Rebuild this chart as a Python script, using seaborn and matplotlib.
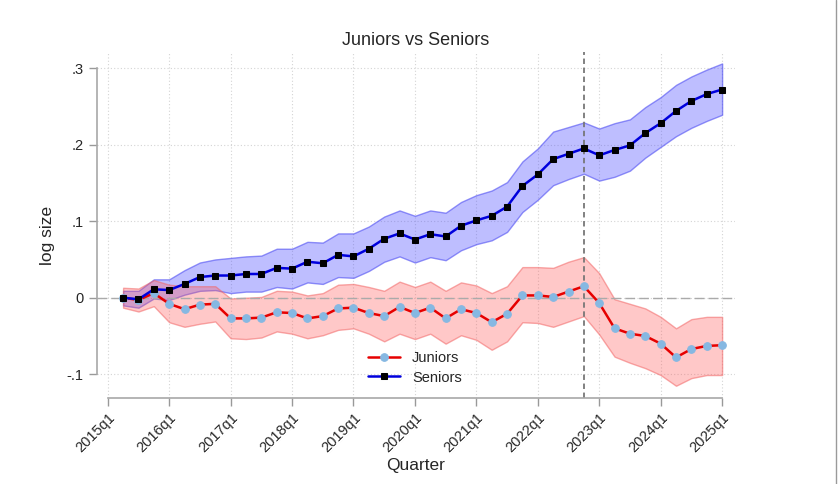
import numpy as np
import pandas as pd
import seaborn as sns
import matplotlib.pyplot as plt
from matplotlib.lines import Line2D

# quarter index: 0 = 2015q1, data runs 2015q2 .. 2025q1
qtr = list(range(1, 41))

seniors = [0.000, -0.002, 0.011, 0.010, 0.018, 0.027, 0.029, 0.029, 0.031, 0.031,
           0.039, 0.038, 0.047, 0.045, 0.056, 0.054, 0.064, 0.077, 0.084, 0.076,
           0.083, 0.080, 0.094, 0.101, 0.107, 0.119, 0.146, 0.161, 0.181, 0.188,
           0.195, 0.186, 0.193, 0.199, 0.215, 0.228, 0.244, 0.257, 0.266, 0.272]
seniors_hi = [0.009, 0.009, 0.024, 0.024, 0.036, 0.046, 0.050, 0.052, 0.054, 0.055,
              0.064, 0.064, 0.073, 0.072, 0.084, 0.084, 0.093, 0.106, 0.114, 0.107,
              0.114, 0.111, 0.125, 0.134, 0.140, 0.151, 0.178, 0.195, 0.217, 0.223,
              0.229, 0.221, 0.228, 0.233, 0.249, 0.262, 0.278, 0.289, 0.298, 0.306]
seniors_lo = [-0.010, -0.013, -0.001, -0.003, 0.004, 0.009, 0.010, 0.006, 0.008, 0.008,
              0.014, 0.012, 0.020, 0.018, 0.027, 0.026, 0.035, 0.047, 0.054, 0.046,
              0.053, 0.049, 0.062, 0.070, 0.075, 0.086, 0.112, 0.128, 0.147, 0.155,
              0.162, 0.153, 0.158, 0.166, 0.183, 0.197, 0.211, 0.222, 0.231, 0.239]

juniors = [0.000, -0.003, 0.006, -0.008, -0.015, -0.009, -0.008, -0.027, -0.027, -0.026,
           -0.019, -0.020, -0.027, -0.024, -0.014, -0.013, -0.020, -0.024, -0.012, -0.020,
           -0.013, -0.027, -0.015, -0.020, -0.032, -0.021, 0.003, 0.003, 0.001, 0.008,
           0.015, -0.007, -0.040, -0.047, -0.050, -0.060, -0.078, -0.067, -0.063, -0.062]
juniors_hi = [0.013, 0.012, 0.023, 0.017, 0.015, 0.015, 0.015, -0.001, 0.000, 0.001,
              0.009, 0.008, 0.003, 0.006, 0.017, 0.018, 0.014, 0.009, 0.021, 0.014,
              0.021, 0.009, 0.020, 0.016, 0.006, 0.015, 0.040, 0.040, 0.039, 0.047,
              0.053, 0.032, -0.002, -0.008, -0.014, -0.025, -0.040, -0.028, -0.025, -0.025]
juniors_lo = [-0.013, -0.018, -0.011, -0.032, -0.038, -0.034, -0.031, -0.053, -0.054, -0.052,
              -0.044, -0.047, -0.053, -0.049, -0.042, -0.040, -0.047, -0.057, -0.047, -0.054,
              -0.047, -0.060, -0.049, -0.055, -0.068, -0.057, -0.032, -0.033, -0.038, -0.031,
              -0.024, -0.048, -0.077, -0.085, -0.092, -0.101, -0.115, -0.105, -0.101, -0.101]

tick_pos = [0, 4, 8, 12, 16, 20, 24, 28, 32, 36, 40]
tick_labels = ['2015q1', '2016q1', '2017q1', '2018q1', '2019q1', '2020q1',
               '2021q1', '2022q1', '2023q1', '2024q1', '2025q1']
y_ticks = [-0.1, 0, 0.1, 0.2, 0.3]
y_labels = ['-.1', '0', '.1', '.2', '.3']
event_qtr = 31  # 2022q4

df = pd.DataFrame({'qtr': qtr, 'Juniors': juniors, 'Seniors': seniors})

sns.set_style('white')
plt.rcParams['font.family'] = ['Liberation Sans', 'DejaVu Sans']

fig = plt.figure(figsize=(8.38, 4.84), dpi=100)
ax = fig.add_axes([97 / 838, 1 - 398 / 484, 638 / 838, 346 / 484])

# grid
for t in tick_pos:
    ax.axvline(t, color='#d4d4d4', linestyle=(0, (1, 2)), linewidth=0.8, zorder=0)
for t in y_ticks:
    ax.axhline(t, color='#d4d4d4', linestyle=(0, (1, 2)), linewidth=0.8, zorder=0)

ax.fill_between(qtr, seniors_lo, seniors_hi, facecolor=(0.3, 0.3, 1.0, 0.36),
                edgecolor=(0.3, 0.3, 0.95, 0.6), linewidth=1, zorder=1)
ax.fill_between(qtr, juniors_lo, juniors_hi, facecolor=(1.0, 0.35, 0.35, 0.33),
                edgecolor=(0.95, 0.4, 0.4, 0.55), linewidth=1, zorder=1)

ax.axhline(0, color='#aaaaaa', linestyle=(0, (7, 3)), linewidth=1, zorder=2)
ax.axvline(event_qtr, color='#777777', linestyle=(0, (3, 2)), linewidth=1.3, zorder=2)

sns.lineplot(data=df, x='qtr', y='Juniors', ax=ax, color='#e60000', linewidth=1.8,
             marker='o', markersize=5.5, markerfacecolor='#86b8e2',
             markeredgecolor='#86b8e2', label='Juniors', zorder=3)
sns.lineplot(data=df, x='qtr', y='Seniors', ax=ax, color='#0000dd', linewidth=1.8,
             marker='s', markersize=5, markerfacecolor='black',
             markeredgecolor='black', label='Seniors', zorder=4)

ax.set_xlim(-0.70, 40.84)
ax.set_ylim(-0.131, 0.321)
ax.set_xticks(tick_pos)
ax.set_xticklabels(tick_labels, rotation=45, ha='right', rotation_mode='anchor')
ax.set_yticks(y_ticks)
ax.set_yticklabels(y_labels)
ax.tick_params(axis='both', labelsize=10.5, color='#999999', length=6, width=1,
               direction='out', left=True, bottom=True)
ax.tick_params(axis='x', pad=3)

for s in ['top', 'right']:
    ax.spines[s].set_visible(False)
for s in ['left', 'bottom']:
    ax.spines[s].set_color('#a8a8a8')
    ax.spines[s].set_linewidth(1.2)
ax.spines['left'].set_bounds(-0.1, 0.3)
ax.spines['bottom'].set_bounds(0, 40)

ax.set_title('Juniors vs Seniors', fontsize=13, pad=5)
ax.set_xlabel('Quarter', fontsize=12.5)
ax.set_ylabel('log size', fontsize=12.5)
ax.xaxis.set_label_coords(0.5, -0.172)
ax.yaxis.set_label_coords(-0.066, 0.47)

ax.legend(loc='center', bbox_to_anchor=(415 / 838, 1 - 368 / 484),
          bbox_transform=fig.transFigure, frameon=False, fontsize=10.5,
          handlelength=2.2, labelspacing=0.35)

# thin frame line on the right edge, as in the original export
fig.add_artist(Line2D([0.998, 0.998], [0, 1], transform=fig.transFigure,
                      color='#9a9a9a', linewidth=1))

fig.savefig('out.png', dpi=100)
